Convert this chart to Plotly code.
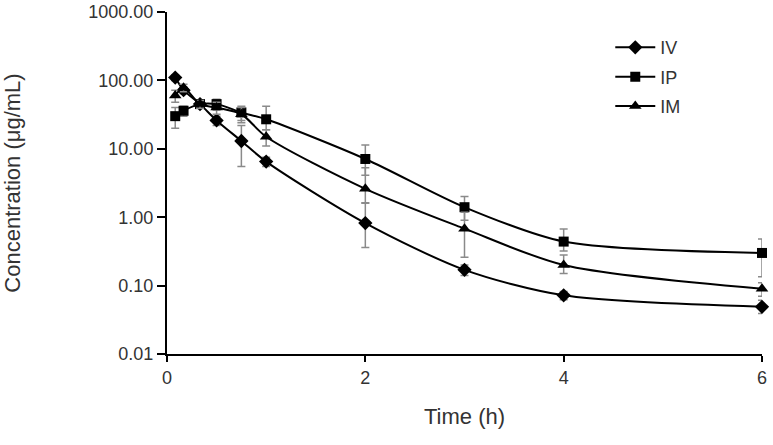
import plotly.graph_objects as go

time_h = [0.083, 0.167, 0.333, 0.5, 0.75, 1, 2, 3, 4, 6]

iv_mean = [110, 72, 45, 26, 13, 6.5, 0.82, 0.17, 0.072, 0.049]
iv_up = [10, 8, 5, 4, 9, 1.0, 0.8, 0.03, 0.01, 0.012]
iv_dn = [10, 8, 5, 4, 7.5, 1.0, 0.46, 0.03, 0.01, 0.01]

ip_mean = [30, 36, 45, 45, 34, 27, 7.1, 1.4, 0.44, 0.30]
ip_up = [10, 6, 6, 8, 8, 15, 4.3, 0.6, 0.23, 0.18]
ip_dn = [10, 6, 6, 8, 8, 8, 3.0, 0.5, 0.12, 0.165]

im_mean = [60, 78, 45, 40, 32, 15, 2.6, 0.68, 0.20, 0.09]
im_up = [12, 10, 6, 8, 8, 4, 2.7, 0.5, 0.08, 0.02]
im_dn = [12, 10, 6, 8, 8, 4, 1.0, 0.42, 0.05, 0.02]

series = [
    ("IV", iv_mean, iv_up, iv_dn, "diamond", 11),
    ("IP", ip_mean, ip_up, ip_dn, "square", 10),
    ("IM", im_mean, im_up, im_dn, "triangle-up", 11),
]

y_tickvals = [0.01, 0.1, 1, 10, 100, 1000]
y_ticktext = ["0.01", "0.10", "1.00", "10.00", "100.00", "1000.00"]
x_tickvals = [0, 2, 4, 6]

fig = go.Figure()
for name, mean, up, dn, sym, sz in series:
    fig.add_trace(go.Scatter(
        x=time_h, y=mean, name=name, legendgroup=name, mode="lines+markers",
        line=dict(color="black", width=2, shape="spline", smoothing=0.8),
        marker=dict(symbol=sym, size=sz, color="black"),
        error_y=dict(type="data", symmetric=False, array=up, arrayminus=dn,
                     color="#8a8a8a", thickness=1.5, width=4),
        cliponaxis=False,
    ))

font_family = "Liberation Sans, Arial, sans-serif"
fig.update_layout(
    width=773, height=445,
    margin=dict(l=167, r=11, t=12, b=91, autoexpand=False),
    paper_bgcolor="white", plot_bgcolor="white",
    font=dict(family=font_family, size=18, color="#333333"),
    showlegend=True,
    legend=dict(x=0.745, y=0.95, xanchor="left", yanchor="top",
                bgcolor="rgba(0,0,0,0)", font=dict(size=18, color="#333333"),
                tracegroupgap=3, itemwidth=40),
    xaxis=dict(range=[0, 6], tickvals=x_tickvals, ticks="outside", ticklen=6,
               showline=True, linecolor="black", linewidth=2, showgrid=False,
               zeroline=False, automargin=False,
               title=dict(text="Time (h)", standoff=22),
               tickcolor="black", tickwidth=1.5),
    yaxis=dict(type="log", range=[-2, 3], tickvals=y_tickvals, ticktext=y_ticktext,
               ticks="outside", ticklen=8, showline=True, linecolor="black",
               linewidth=2, showgrid=False, zeroline=False, tickcolor="black",
               tickwidth=1.5, automargin=False,
               title=dict(text="Concentration (μg/mL)", standoff=63)),
)

fig.write_html("out.html", config={"displayModeBar": False},
               post_script="document.body.style.margin='0';")
